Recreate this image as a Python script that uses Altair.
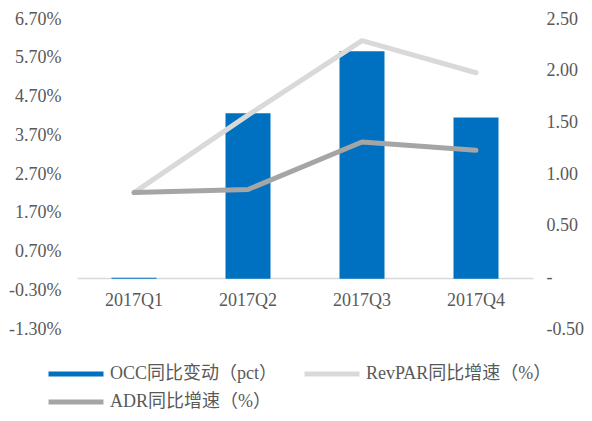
import altair as alt
import pandas as pd

quarters = ["2017Q1", "2017Q2", "2017Q3", "2017Q4"]
series_names = ["OCC同比变动（pct）", "RevPAR同比增速（%）", "ADR同比增速（%）"]
occ = [0.02, 4.27, 5.87, 4.16]
revpar = [0.82, 1.57, 2.29, 1.98]
adr = [0.82, 0.85, 1.31, 1.23]
left_ticks = [-1.3, -0.3, 0.7, 1.7, 2.7, 3.7, 4.7, 5.7, 6.7]
right_ticks = [-0.5, 0.0, 0.5, 1.0, 1.5, 2.0, 2.5]
colors = ["#0070C0", "#D9D9D9", "#A5A5A5"]

FONT = "Liberation Serif, 'Noto Sans CJK SC'"
TXT = "#595959"

bars_df = pd.DataFrame({"季度": quarters, "值": occ, "系列": [series_names[0]] * 4})
lines_df = pd.DataFrame({
    "季度": quarters * 2,
    "值": revpar + adr,
    "系列": [series_names[1]] * 4 + [series_names[2]] * 4,
})

x = alt.X("季度:N", sort=quarters,
          scale=alt.Scale(paddingInner=0.6, paddingOuter=0.3),
          axis=alt.Axis(title=None, orient="bottom", offset=-51, domainColor="#D9D9D9",
                        domainWidth=1.5, ticks=False, labelAngle=0, labelPadding=13,
                        labelFont=FONT, labelFontSize=18, labelColor=TXT))

color = alt.Color("系列:N",
                  scale=alt.Scale(domain=series_names, range=colors),
                  legend=alt.Legend(title=None, orient="none", legendX=-10, legendY=346,
                                    columns=2, direction="horizontal",
                                    symbolType="M-5,-0.45H5V0.45H-5Z", symbolSize=121,
                                    symbolStrokeWidth=0, labelFont=FONT, labelFontSize=18,
                                    labelColor=TXT, columnPadding=26, rowPadding=10,
                                    labelOffset=25, labelLimit=400))

bars = alt.Chart(bars_df).mark_bar(size=45).encode(
    x=x,
    y=alt.Y("值:Q", scale=alt.Scale(domain=[-1.3, 6.7], nice=False),
            axis=alt.Axis(orient="left", values=left_ticks, title=None, grid=False,
                          domain=False, ticks=False, labelPadding=16,
                          labelExpr="(datum.value < 0 ? '-' : '') + format(abs(datum.value), '.2f') + '%'",
                          labelFont=FONT, labelFontSize=18, labelColor=TXT)),
    color=color,
)

lines = alt.Chart(lines_df).mark_line(strokeWidth=5, strokeCap="round", strokeJoin="round").encode(
    x=x,
    y=alt.Y("值:Q", scale=alt.Scale(domain=[-0.5, 2.5], nice=False),
            axis=alt.Axis(orient="right", values=right_ticks, title=None, grid=False,
                          domain=False, ticks=False, labelPadding=13,
                          labelExpr="datum.value == 0 ? '-' : (datum.value < 0 ? '-' : '') + format(abs(datum.value), '.2f')",
                          labelFont=FONT, labelFontSize=18, labelColor=TXT)),
    color=color,
)

chart = alt.layer(bars, lines).resolve_scale(y="independent").properties(
    width=456, height=310,
    autosize=alt.AutoSizeParams(type="none"),
    padding={"left": 69, "top": 11, "right": 51, "bottom": 84},
).configure_view(stroke=None)

chart.save("out.html", embed_options={"renderer": "svg", "actions": False})
